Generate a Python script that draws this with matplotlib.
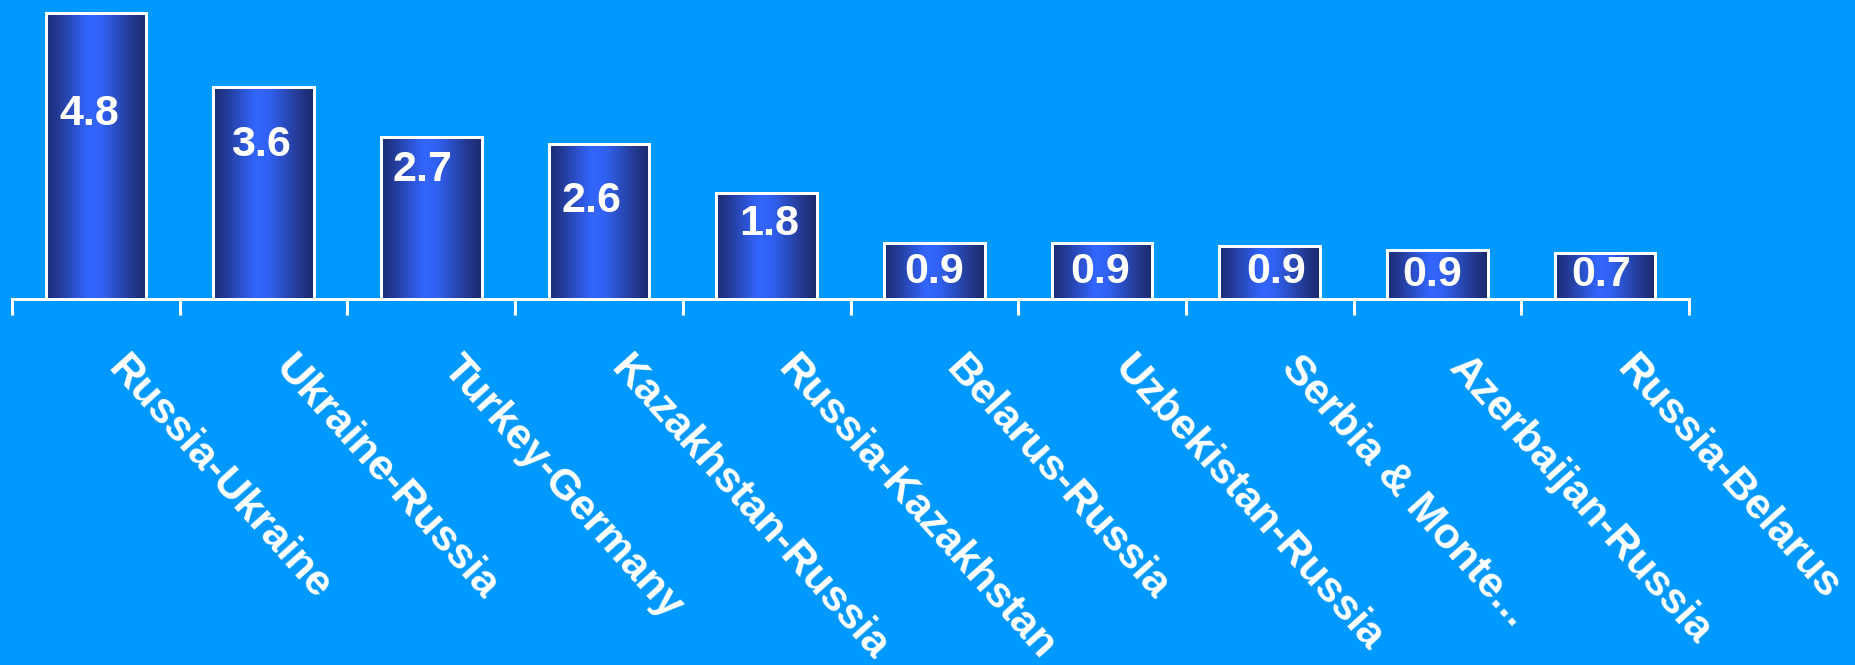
import numpy as np
import matplotlib.pyplot as plt
from matplotlib.colors import LinearSegmentedColormap

# data
routes = ["Russia-Ukraine", "Ukraine-Russia", "Turkey-Germany", "Kazakhstan-Russia",
          "Russia-Kazakhstan", "Belarus-Russia", "Uzbekistan-Russia", "Serbia & Monte...",
          "Azerbaijan-Russia", "Russia-Belarus"]
values = [4.8, 3.56, 2.72, 2.6, 1.78, 0.94, 0.94, 0.89, 0.82, 0.77]
value_labels = ["4.8", "3.6", "2.7", "2.6", "1.8", "0.9", "0.9", "0.9", "0.9", "0.7"]

# label nudges (pixels) to mimic where the original put them
lab_dx = [-7, -3, -9, -8, 3, 0, -1.5, 6, -5, -4]
lab_dy = [97, 54, 29, 53, 27, 25, 25, 22, 21, 18]

bg = "#0099ff"
W, H, dpi = 1856, 665, 100
px = 72 / dpi  # pixel -> points

fig = plt.figure(figsize=(W / dpi, H / dpi), dpi=dpi, facecolor=bg)
ax = fig.add_axes([12 / W, (H - 299) / H, 1677 / W, 299 / H])
ax.set_facecolor(bg)

n = len(values)
x = np.arange(n)

cmap = LinearSegmentedColormap.from_list(
    "bar", [(0, "#1b2c74"), (0.12, "#233a94"), (0.42, "#3366ff"),
            (0.55, "#3162f5"), (0.85, "#233a90"), (1, "#1c2a6c")])
grad = np.linspace(0, 1, 256).reshape(1, -1)

bars = ax.bar(x, values, width=0.6, color="none", edgecolor="white",
              linewidth=3 * px, zorder=3)
for b in bars:
    x0, w, h = b.get_x(), b.get_width(), b.get_height()
    im = ax.imshow(grad, cmap=cmap, aspect="auto", extent=(x0, x0 + w, 0, h),
                   zorder=2, interpolation="bicubic")
    im.set_clip_path(b)

ax.set_xlim(-0.5, n - 0.5)
ax.set_ylim(0, 299 / 59.6)

font = "Liberation Sans"
for i, b in enumerate(bars):
    ax.annotate(value_labels[i], xy=(x[i], values[i]),
                xytext=(lab_dx[i] * px, -(lab_dy[i] + 4) * px),
                textcoords="offset points", ha="center", va="center",
                color="white", fontsize=31, fontweight="bold", family=font, zorder=4)

for i, name in enumerate(routes):
    ax.annotate(name, xy=(x[i], 0), xycoords=("data", "axes fraction"),
                xytext=(33 * px, -49 * px), textcoords="offset points",
                rotation=-48, rotation_mode="anchor", ha="left", va="top",
                color="white", fontsize=31, fontweight="bold", family=font,
                annotation_clip=False)

for s in ["top", "right", "left"]:
    ax.spines[s].set_visible(False)
ax.spines["bottom"].set_color("white")
ax.spines["bottom"].set_linewidth(3 * px)
ax.set_yticks([])
ax.set_xticks(np.arange(n + 1) - 0.5)
ax.set_xticklabels([])
ax.tick_params(axis="x", direction="out", length=16 * px, width=3 * px, color="white")

fig.savefig("out.png", dpi=dpi, facecolor=bg)
